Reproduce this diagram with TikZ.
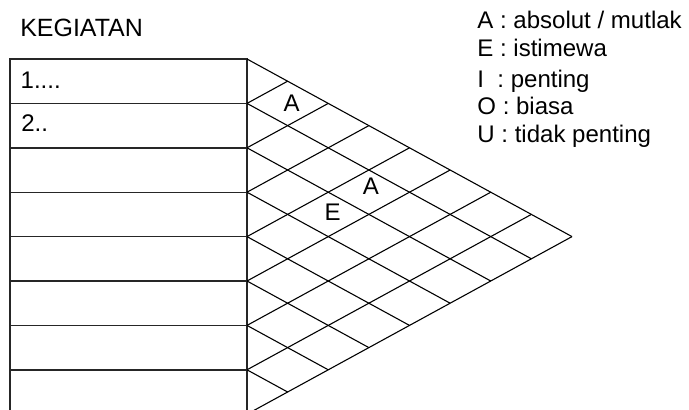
\documentclass[tikz,border=0pt]{standalone}
\usepackage{fontspec}
\setmainfont{Liberation Sans}
\usetikzlibrary{positioning}

\begin{document}
\begin{tikzpicture}[
  font=\fontsize{15.4}{18.5}\selectfont,
  every node/.style={inner sep=0pt, anchor=base west},
  tabel/.style={line width=0.9pt, black!85},
  garis/.style={line width=0.7pt},
  sel/.style={anchor=center}
]
\useasboundingbox (-0.225,1.329) rectangle (15.293,-7.905);
\clip (-0.225,1.329) rectangle (15.293,-7.905);

% tabel kegiatan
\draw[tabel] (0,0) rectangle (5.338,-8);
\foreach \k in {1,...,7} \draw[tabel] (0,-\k) -- (5.338,-\k);

% matriks hubungan
\foreach \k in {0,...,8} {
  \draw[garis] (5.338,-\k) -- ++({0.915*(8-\k)},{-(8-\k)/2});
  \draw[garis] (5.338,-\k) -- ++({0.915*\k},{\k/2});
}

\node[font=\fontsize{16}{19}\selectfont] (judul) at (0.225,0.507) {KEGIATAN};
\node (k1) at (0.234,-0.66) {1....};
\node (k2) at (0.247,-1.637) {2..};

\node[sel] (a1) at (6.345,-0.998) {A};
\node[sel] (a2) at (8.126,-2.876) {A};
\node[sel] (e1) at (7.264,-3.457) {E};

% keterangan
\node (ketA) at (10.52,0.691) {A : absolut / mutlak};
\node (ketE) at (10.52,0.052) {E : istimewa};
\node (ketI) at (10.52,-0.64) {I \ : penting};
\node (ketO) at (10.52,-1.26) {O : biasa};
\node (ketU) at (10.52,-1.89) {U : tidak penting};
\end{tikzpicture}
\end{document}
